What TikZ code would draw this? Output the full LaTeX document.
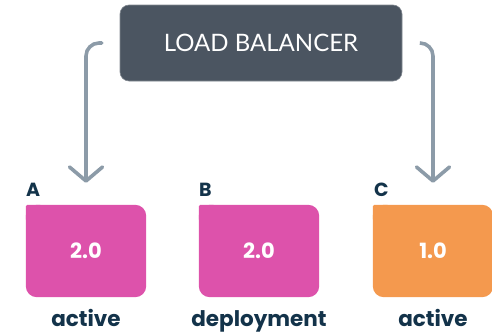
\documentclass[tikz,border=0pt]{standalone}
\usepackage{fontspec}
\setmainfont{Lato}
\newfontfamily\labelfont{Poppins}
\usetikzlibrary{arrows.meta}
\definecolor{lbgray}{HTML}{4B5561}
\definecolor{arrowgray}{HTML}{8C9BA8}
\definecolor{pinkc}{HTML}{DD52AB}
\definecolor{orangec}{HTML}{F4994E}
\definecolor{navy}{HTML}{13334A}
\tikzset{
  lbbox/.style={fill=lbgray, draw=lbgray!70!white, line width=0.6pt, rounded corners=9pt,
    minimum width=282pt, minimum height=76pt, text=white, font=\fontsize{24}{28}\selectfont},
  srvbox/.style={minimum width=120pt, minimum height=92pt, inner sep=0pt},
  vertext/.style={text=white, font=\labelfont\bfseries\fontsize{21}{24}\selectfont},
  tag/.style={text=navy, font=\labelfont\bfseries\fontsize{19}{22}\selectfont, inner sep=0pt, anchor=base west},
  status/.style={text=navy, font=\labelfont\bfseries\fontsize{21.5}{24}\selectfont, inner sep=0pt, anchor=base},
  flow/.style={draw=arrowgray, line width=3.6pt, rounded corners=13pt, line cap=round,
    -{Straight Barb[length=14pt, width=33pt, round]}},
}
% server box: rounded body with an almost square top-left corner
\newcommand{\srvshape}[2]{%
  \fill[#2, rounded corners=11pt] (#1.north west) rectangle (#1.south east);
  \fill[#2, rounded corners=1.5pt] (#1.north west) rectangle ++(16,16);}
\begin{document}
\begin{tikzpicture}[x=1pt, y=-1pt]
\useasboundingbox (0,0) rectangle (492,332);

% load balancer
\node[lbbox] (lb) at (261,43) {LOAD BALANCER};

% servers
\node[srvbox] (a) at (86,251) {};
\node[srvbox] (b) at (259,251) {};
\node[srvbox] (c) at (433,251) {};
\srvshape{a}{pinkc}
\srvshape{b}{pinkc}
\srvshape{c}{orangec}
\node[vertext] (va) at (a) {2.0};
\node[vertext] (vb) at (b) {2.0};
\node[vertext] (vc) at (c) {1.0};

% server tags
\node[tag] (ta) at ([yshift=8pt]a.north west) {A};
\node[tag] (tb) at ([yshift=8pt]b.north west) {B};
\node[tag] (tc) at ([xshift=1pt, yshift=8pt]c.north west) {C};

% status labels
\node[status] (sa) at (86,326) {active};
\node[status] (sb) at (259,326) {deployment};
\node[status] (sc) at (433,326) {active};

% traffic arrows
\coordinate (la) at ([xshift=-18pt]lb.west);
\coordinate (ra) at ([xshift=18pt]lb.east);
\draw[flow] (la) -| ([yshift=22pt]a.north);
\draw[flow] (ra) -| ([yshift=22pt]c.north);
\end{tikzpicture}
\end{document}
